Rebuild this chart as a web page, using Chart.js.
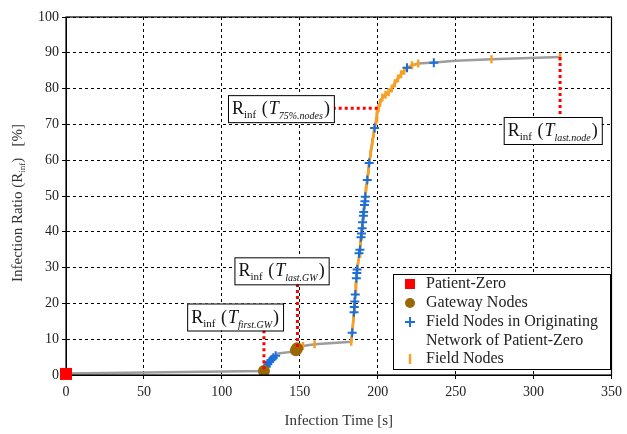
<!DOCTYPE html>
<html>
<head>
<meta charset="utf-8">
<script src="https://cdn.jsdelivr.net/npm/chart.js@4"></script>
<style>
  html, body { margin: 0; padding: 0; background: #fff; }
  #wrap { width: 627px; height: 434px; }
</style>
</head>
<body>
<div id="wrap"><canvas id="myChart"></canvas></div>
<script>
// infection curve (time [s], ratio [%])
const curveT = [0, 127, 128.5, 129.5, 130.5, 131.5, 133, 134.5, 136, 147, 148.3, 152, 159.5, 183, 183.6, 184.5, 184.8, 185, 185.3, 185.6, 186, 186.3, 186.6, 187, 188, 188.6, 189.3, 189.6, 190, 190.3, 190.8, 191, 191.5, 191.8, 192, 192.5, 193.3, 194, 194.5, 195.5, 196.5, 197.5, 198, 199, 199.5, 200.5, 201.5, 203, 205, 207, 209, 211, 213, 215, 217, 218.8, 222, 226, 236, 250, 273, 317];
const curveR = [0.4, 1.1, 2.3, 3.0, 3.6, 4.2, 4.8, 5.4, 6.0, 6.6, 7.5, 8.1, 8.6, 9.3, 11.8, 16.0, 17.5, 19.0, 20.5, 22.5, 25, 27, 29, 30, 33, 35, 38, 39.5, 41, 42.5, 44, 45.5, 47.5, 48.5, 50, 52, 54.5, 57, 59, 62, 65, 67.5, 69, 71, 73, 74.5, 76, 77.5, 78.3, 79, 80, 81.5, 82.8, 84, 85, 85.8, 86.5, 87, 87.3, 87.8, 88.2, 88.8];

// patient zero
const zeroT = [0];
const zeroR = [0.3];

// gateway nodes
const gwT = [127, 147.5, 148.3];
const gwR = [1.1, 6.9, 7.5];

// field nodes in originating network of patient zero
const origT = [128.5, 129.5, 130.5, 131.5, 133, 134.5, 183.6, 184.8, 185, 185.3, 185.6, 186.3, 186.6, 186.8, 188, 188.6, 189.3, 189.6, 190, 190.3, 190.8, 191, 191.5, 191.8, 192, 193.3, 194.5, 198, 218.8, 236];
const origR = [2.3, 3.0, 3.6, 4.2, 4.8, 5.4, 11.8, 17.5, 19, 20.5, 22.5, 27, 28.5, 29.5, 34, 35, 38.5, 39.5, 41, 42.7, 44.5, 45.5, 47.5, 48.5, 49.8, 54.5, 59.2, 69, 85.8, 87.2];

// other field nodes
const fieldT = [152, 159.5, 183, 184.5, 186, 187, 189, 192.5, 194, 195.5, 196.5, 197.5, 199, 199.5, 200.5, 201.5, 203, 205, 207, 209, 211, 213, 215, 217, 222, 226, 273, 317];
const fieldR = [8.1, 8.6, 9.3, 16, 25, 30, 37, 52, 57, 62, 65, 67.5, 71, 73, 74.5, 76, 77.5, 78.3, 79, 80, 81.5, 82.8, 84, 85, 86.5, 87, 88.2, 88.8];

// annotated points
const annoSub = ['first.GW', 'last.GW', '75%.nodes', 'last.node'];
const annoT = [127, 148.5, 200, 317];
const annoR = [1.6, 7.8, 74.5, 88.8];

const legendLabels = ['Patient-Zero', 'Gateway Nodes', ['Field Nodes in Originating', 'Network of Patient-Zero'], 'Field Nodes'];

const pts = (xs, ys) => xs.map((x, i) => ({x: x, y: ys[i]}));

// where the boxes sit (data coords of box centre) and how the red line runs
const annoBoxes = [
  {cx: 108.5, cy: 16.2, dir: 'v'},
  {cx: 138.3, cy: 29.1, dir: 'v'},
  {cx: 137.9, cy: 74.4, dir: 'h'},
  {cx: 312.3, cy: 68.3, dir: 'v'}
];

const SERIF = '"Liberation Serif", "DejaVu Serif", serif';
const RED = '#ff0000', BROWN = '#9a6807', BLUE = '#1a6fd8', ORANGE = '#f7a023', GRAY = '#9d9d9d';

function rinfParts(sub) {
  return [
    {t: 'R', f: '18px ' + SERIF, dy: 0},
    {t: 'inf', f: '11px ' + SERIF, dy: 4},
    {t: ' (', f: '18px ' + SERIF, dy: 0, gap: 1},
    {t: 'T', f: 'italic 18px ' + SERIF, dy: 0, gap: 1},
    {t: sub, f: 'italic 10px ' + SERIF, dy: 5},
    {t: ')', f: '18px ' + SERIF, dy: 0, gap: 1}
  ];
}

function measureParts(ctx, parts) {
  let w = 0;
  parts.forEach(p => { ctx.font = p.f; p.w = ctx.measureText(p.t).width; w += p.w + (p.gap || 0); });
  return w;
}

function drawParts(ctx, parts, x, y) {
  ctx.textBaseline = 'alphabetic';
  ctx.textAlign = 'left';
  parts.forEach(p => {
    x += (p.gap || 0);
    ctx.font = p.f;
    ctx.fillText(p.t, x, y + p.dy);
    x += p.w;
  });
}

const extras = {
  id: 'extras',
  afterDatasetsDraw(chart) {
    const ctx = chart.ctx, xs = chart.scales.x, ys = chart.scales.y;
    annoSub.forEach((sub, i) => {
      const b = annoBoxes[i];
      const parts = rinfParts(sub);
      ctx.save();
      const w = measureParts(ctx, parts) + 8, h = 27;
      const bx = xs.getPixelForValue(b.cx) - w / 2, by = ys.getPixelForValue(b.cy) - h / 2;
      const ax = xs.getPixelForValue(annoT[i]), ay = ys.getPixelForValue(annoR[i]);
      ctx.strokeStyle = RED;
      ctx.lineWidth = 3;
      ctx.setLineDash([3, 3]);
      ctx.beginPath();
      if (b.dir === 'v') {
        const endY = by > ay ? by : by + h;
        ctx.moveTo(ax, ay); ctx.lineTo(ax, endY);
      } else {
        ctx.moveTo(ax, ay); ctx.lineTo(bx + w, ay);
      }
      ctx.stroke();
      ctx.setLineDash([]);
      ctx.fillStyle = '#fff';
      ctx.fillRect(bx, by, w, h);
      ctx.strokeStyle = '#000';
      ctx.lineWidth = 1;
      ctx.strokeRect(bx + 0.5, by + 0.5, w, h);
      ctx.fillStyle = '#111';
      drawParts(ctx, parts, bx + 4, by + 19);
      ctx.restore();
    });
  },
  afterDraw(chart) {
    const ctx = chart.ctx, a = chart.chartArea;
    ctx.save();
    // frame
    ctx.strokeStyle = '#000';
    ctx.lineWidth = 1.2;
    ctx.strokeRect(a.left, a.top, a.right - a.left, a.bottom - a.top);

    // y title
    ctx.translate(17, 203);
    ctx.rotate(-Math.PI / 2);
    ctx.fillStyle = '#333';
    const yParts = [
      {t: 'Infection Ratio (R', f: '15px ' + SERIF, dy: 0},
      {t: 'inf', f: '9px ' + SERIF, dy: 3},
      {t: ')   [%]', f: '15px ' + SERIF, dy: 0}
    ];
    const yw = measureParts(ctx, yParts);
    drawParts(ctx, yParts, -yw / 2, 5);
    ctx.restore();

    // redraw patient zero on top of the frame
    const pz = chart.getDatasetMeta(0).data[0];
    ctx.save();
    ctx.fillStyle = RED;
    ctx.fillRect(pz.x - 6, pz.y - 6, 12, 12);
    ctx.restore();

    // legend
    ctx.save();
    const lx = 393, ly = 274, lw = 217, lh = 95;
    ctx.fillStyle = '#fff';
    ctx.fillRect(lx, ly, lw, lh);
    ctx.strokeStyle = '#000';
    ctx.lineWidth = 1;
    ctx.strokeRect(lx + 0.5, ly + 0.5, lw, lh);
    const rows = [284, 303, 322, 359];
    const sx = 410;
    ctx.font = '16px ' + SERIF;
    ctx.fillStyle = '#222';
    ctx.textBaseline = 'middle';
    legendLabels.forEach((lab, i) => {
      const y = rows[i];
      const lines = Array.isArray(lab) ? lab : [lab];
      lines.forEach((l, k) => ctx.fillText(l, 426, y + k * 19));
    });
    // markers
    ctx.fillStyle = RED;
    ctx.fillRect(sx - 5, rows[0] - 5, 10, 10);
    ctx.fillStyle = BROWN;
    ctx.beginPath(); ctx.arc(sx, rows[1], 5, 0, Math.PI * 2); ctx.fill();
    ctx.strokeStyle = BLUE; ctx.lineWidth = 2;
    ctx.beginPath();
    ctx.moveTo(sx - 5, rows[2]); ctx.lineTo(sx + 5, rows[2]);
    ctx.moveTo(sx, rows[2] - 5); ctx.lineTo(sx, rows[2] + 5);
    ctx.stroke();
    ctx.strokeStyle = ORANGE; ctx.lineWidth = 2.5;
    ctx.beginPath(); ctx.moveTo(sx, rows[3] - 5); ctx.lineTo(sx, rows[3] + 5); ctx.stroke();
    ctx.restore();
  }
};

const orangeLine = pts(curveT, curveR).filter(p => p.x >= 183 && p.x <= 226);

const gridOpts = { color: '#000', lineWidth: 1, borderDash: [3, 3], tickLength: 4, tickColor: '#000', tickBorderDash: [] };
const borderOpts = { display: true, color: '#000', width: 1, dash: [3, 3] };

const ctx = document.getElementById('myChart');
new Chart(ctx, {
  type: 'scatter',
  data: {
    datasets: [
      {
        label: 'Patient-Zero',
        data: pts(zeroT, zeroR),
        pointStyle: 'rect', pointRadius: 7, backgroundColor: RED, borderColor: RED, borderWidth: 0,
        clip: false, order: 0
      },
      {
        label: 'Gateway Nodes',
        data: pts(gwT, gwR),
        pointStyle: 'circle', pointRadius: 6, backgroundColor: BROWN, borderColor: BROWN, borderWidth: 0,
        order: 1
      },
      {
        label: 'Field Nodes in Originating Network of Patient-Zero',
        data: pts(origT, origR),
        pointStyle: 'cross', pointRadius: 4.5, borderColor: BLUE, borderWidth: 2,
        order: 2
      },
      {
        label: 'Field Nodes',
        data: pts(fieldT, fieldR),
        pointStyle: 'line', rotation: 90, pointRadius: 4, borderColor: ORANGE, borderWidth: 2.5,
        order: 3
      },
      {
        label: 'orange',
        data: orangeLine,
        showLine: true, pointRadius: 0, borderColor: ORANGE, borderWidth: 2.5,
        order: 4
      },
      {
        label: 'curve',
        data: pts(curveT, curveR),
        showLine: true, pointRadius: 0, borderColor: GRAY, borderWidth: 2.5,
        order: 5
      }
    ]
  },
  options: {
    responsive: true,
    maintainAspectRatio: false,
    animation: false,
    layout: { padding: { top: 17, right: 14, left: 0, bottom: 0 } },
    plugins: {
      legend: { display: false },
      tooltip: { enabled: false }
    },
    scales: {
      x: {
        type: 'linear',
        min: 0, max: 350,
        afterFit: s => { s.height = 59; },
        ticks: { stepSize: 50, color: '#222', font: { size: 14, family: SERIF }, padding: 5 },
        grid: gridOpts,
        border: borderOpts,
        title: { display: true, text: 'Infection Time [s]', color: '#333', font: { size: 15, family: SERIF }, padding: { top: 21 } }
      },
      y: {
        min: 0, max: 100,
        afterFit: s => { s.width = 66; },
        ticks: { stepSize: 10, color: '#222', font: { size: 14, family: SERIF }, padding: 3 },
        grid: gridOpts,
        border: borderOpts
      }
    }
  },
  plugins: [extras]
});
</script>
</body>
</html>
